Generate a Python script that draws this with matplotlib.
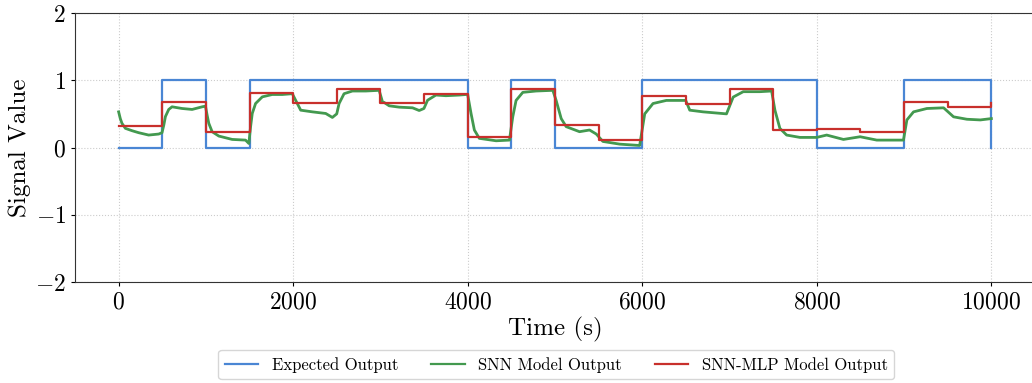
import matplotlib
matplotlib.use('Agg')
import matplotlib.pyplot as plt

plt.rcParams['font.family'] = 'serif'
plt.rcParams['font.serif'] = ['cmr10', 'DejaVu Serif']
plt.rcParams['mathtext.fontset'] = 'cm'
plt.rcParams['axes.formatter.use_mathtext'] = True

# expected output: step levels on each boundary
exp_t = [0, 500, 1000, 1500, 4000, 4500, 5000, 6000, 8000, 9000, 10000]
exp_v = [0, 1, 0, 1, 0, 1, 0, 1, 0, 1, 0]

# SNN-MLP output: one level per 500 s window
mlp_t = [0, 500, 1000, 1500, 2000, 2500, 3000, 3500, 4000, 4500,
         5000, 5500, 6000, 6500, 7000, 7500, 8000, 8500, 9000, 9500, 10000]
mlp_v = [0.32, 0.68, 0.225, 0.81, 0.655, 0.865, 0.66, 0.79, 0.15, 0.875,
         0.33, 0.11, 0.77, 0.64, 0.865, 0.26, 0.28, 0.225, 0.68, 0.60, 0.66]

# SNN output
snn_t = [0, 19, 38, 77, 153, 230, 344, 459, 497, 517, 536, 574, 612, 727, 842, 957, 995,
         1014, 1033, 1071, 1148, 1301, 1454, 1492, 1512, 1531, 1569, 1646, 1760, 1875, 1990,
         2028, 2086, 2220, 2373, 2449, 2499, 2526, 2583, 2679, 2832, 2985,
         3023, 3042, 3100, 3215, 3368, 3444, 3498, 3540, 3636, 3750, 3904, 3999,
         4038, 4076, 4133, 4325, 4478, 4516, 4554, 4631, 4784, 4975,
         5013, 5071, 5128, 5281, 5396, 5473, 5549, 5741, 5970, 6028, 6123, 6276, 6429,
         6498, 6544, 6697, 6965, 7042, 7157, 7348, 7482, 7520, 7577, 7654, 7807, 7998,
         8113, 8305, 8496, 8687, 8879, 8993, 9032, 9108, 9261, 9453, 9567, 9720, 9874, 10000]
snn_v = [0.53, 0.43, 0.36, 0.285, 0.25, 0.22, 0.185, 0.20, 0.22, 0.33, 0.46, 0.566, 0.605, 0.58, 0.566, 0.605, 0.615,
         0.48, 0.36, 0.235, 0.17, 0.12, 0.11, 0.06, 0.31, 0.506, 0.654, 0.753, 0.788, 0.788, 0.80,
         0.703, 0.555, 0.53, 0.506, 0.447, 0.50, 0.654, 0.80, 0.84, 0.84, 0.85,
         0.679, 0.67, 0.62, 0.60, 0.59, 0.55, 0.58, 0.703, 0.78, 0.77, 0.78, 0.79,
         0.506, 0.26, 0.136, 0.10, 0.11, 0.456, 0.70, 0.82, 0.84, 0.85,
         0.70, 0.43, 0.31, 0.235, 0.26, 0.20, 0.09, 0.05, 0.03, 0.50, 0.654, 0.70, 0.70,
         0.70, 0.555, 0.53, 0.50, 0.75, 0.83, 0.83, 0.84, 0.555, 0.284, 0.185, 0.15, 0.15,
         0.185, 0.12, 0.16, 0.11, 0.11, 0.11, 0.41, 0.53, 0.58, 0.59, 0.456, 0.42, 0.41, 0.43]

fig = plt.figure(figsize=(10.32, 3.83), dpi=100)
ax = fig.add_axes([75 / 1032, 101 / 383, 960 / 1032, 269 / 383])

ax.step(exp_t, exp_v, where='post', color='#4a86d4', lw=1.6, label='Expected Output')
ax.plot(snn_t, snn_v, color='#43994f', lw=2.0, label='SNN Model Output')
ax.step(mlp_t, mlp_v, where='post', color='#c8302c', lw=1.6, label='SNN-MLP Model Output')

ax.set_xlim(-500, 10500)
ax.set_ylim(-2, 2)
ax.set_xticks([0, 2000, 4000, 6000, 8000, 10000])
ax.set_yticks([-2, -1, 0, 1, 2])
ax.tick_params(labelsize=17, length=3)
ax.grid(True, linestyle=':', color='#cccccc', lw=0.8)
ax.set_xlabel('Time (s)', fontsize=18, labelpad=3)
ax.set_ylabel('Signal Value', fontsize=18, labelpad=3)
for s in ax.spines.values():
    s.set_color('#333333')

leg = fig.legend(loc='lower center', bbox_to_anchor=(0.539, -0.012), ncol=3, fontsize=12,
                 frameon=True, columnspacing=2.0, handlelength=2.0)
for h in leg.get_lines():
    h.set_linewidth(1.6)

fig.savefig('out.png', dpi=100)
